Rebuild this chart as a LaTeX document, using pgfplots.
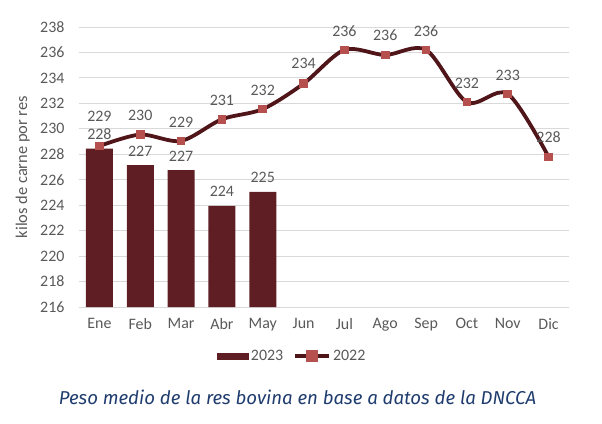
\documentclass[border=0pt]{standalone}
\usepackage{pgfplots}
\pgfplotsset{compat=1.18}
\usepackage{pgfplotstable}
\usepackage{fontspec}
\setmainfont{Carlito}
\newfontfamily\capfont{Fira Sans}
\definecolor{barc}{HTML}{5E1E24}
\definecolor{linec}{HTML}{4F1519}
\definecolor{mk}{HTML}{B5504F}
\definecolor{txt}{HTML}{595959}
\definecolor{gridc}{HTML}{D9D9D9}
\definecolor{capc}{HTML}{1F3C6E}

\pgfplotstableread{
x y
0 228.45
1 227.15
2 226.75
3 223.95
4 225.05
}\bars
\pgfplotstableread{
x y dy
0 228.65 30
1 229.55 19
2 229.05 19
3 230.75 19
4 231.55 19
5 233.55 20
6 236.2 19
7 235.8 20
8 236.2 19
9 232.1 19
10 232.75 19
11 227.8 20
}\lines

\begin{document}
\begin{tikzpicture}[x=1bp,y=1bp]
\path[use as bounding box] (0,0) rectangle (602,423);
\begin{axis}[
  at={(79bp,116bp)}, anchor=south west,
  scale only axis, width=490bp, height=280bp,
  xmin=-0.5, xmax=11.5, ymin=216, ymax=238,
  ytick={216,218,...,238},
  xtick={0,...,11},
  xticklabels={Ene,Feb,Mar,Abr,May,Jun,Jul,Ago,Sep,Oct,Nov,Dic},
  axis line style={draw=none},
  axis x line*=bottom,
  axis y line*=left,
  major tick length=0pt,
  ymajorgrids, grid style={gridc, line width=0.9pt},
  tick label style={font=\fontsize{16}{18}\selectfont, text=txt},
  /pgf/number format/assume math mode=true,
  yticklabel style={xshift=-11bp},
  xticklabel style={yshift=-8bp},
  ylabel={kilos de carne por res},
  ylabel style={font=\fontsize{16.5}{18}\selectfont, text=txt, at={(axis description cs:-0.115,0.5)}, anchor=center},
  legend style={at={(rel axis cs:0.435,-0.175)}, anchor=center, draw=none, fill=none,
    font=\fontsize{16}{18}\selectfont, text=txt, legend columns=2,
    /tikz/every even column/.append style={column sep=8bp}},
  clip=false,
]
\addplot[ybar, bar width=27bp, fill=barc, draw=none,
  nodes near coords, point meta=y,
  nodes near coords style={font=\fontsize{16}{18}\selectfont, text=txt, anchor=center, yshift=14bp, /pgf/number format/.cd, fixed, precision=0, assume math mode=true},
  area legend,
  legend image code/.code={\fill[barc] (0bp,-3.5bp) rectangle (32bp,3.5bp);}
] table[x=x,y=y] {\bars};
\addlegendentry{2023}
\addplot[smooth, tension=0.5, line width=3.8pt, color=linec,
  mark=square*, mark size=3.8bp, mark options={fill=mk, draw=mk, line width=0pt},
  nodes near coords, point meta=y,
  visualization depends on={\thisrow{dy} \as \dy},
  nodes near coords style={font=\fontsize{16}{18}\selectfont, text=txt, anchor=center, yshift=\dy, /pgf/number format/.cd, fixed, precision=0, assume math mode=true},
  legend image code/.code={\draw[linec, line width=3.8pt] (0bp,0bp) -- (34bp,0bp); \fill[mk] (13bp,-3.8bp) rectangle (20.6bp,3.8bp);}
] table[x=x,y=y] {\lines};
\addlegendentry{2022}
\end{axis}
\node[font=\capfont\itshape\fontsize{18.7}{22}\selectfont, text=capc] at (297.5,26) {Peso medio de la res bovina en base a datos de la DNCCA};
\end{tikzpicture}
\end{document}
